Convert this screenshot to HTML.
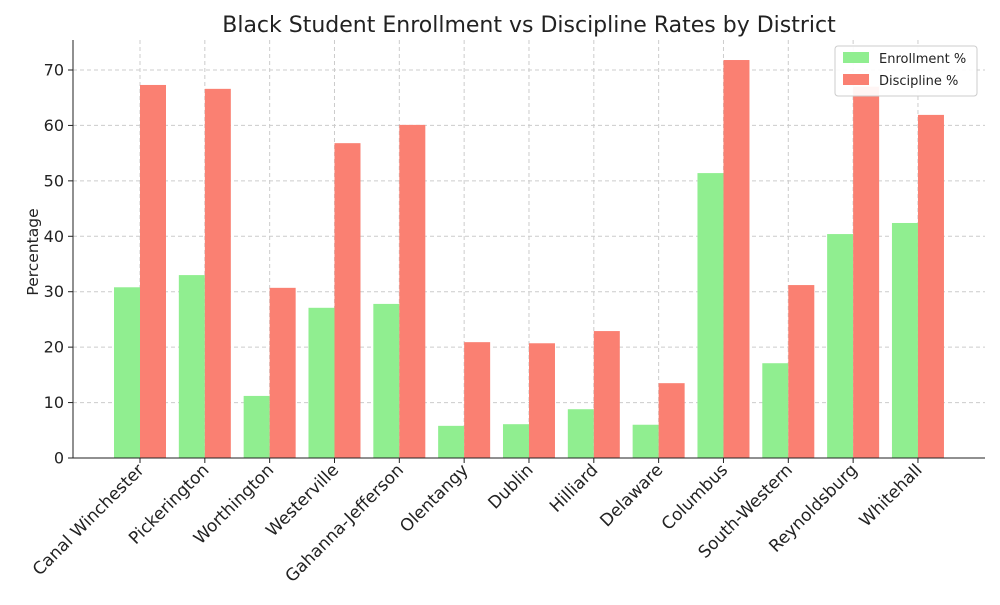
<!DOCTYPE html>
<html><head><meta charset="utf-8"><style>
body{margin:0;background:#fff;font-family:"Liberation Sans","DejaVu Sans",sans-serif;}
svg text{font-family:"DejaVu Sans","Liberation Sans",sans-serif;}
</style></head><body>
<svg id="chart" width="1000" height="600">
<text x="529" y="32" font-size="22" text-anchor="middle" fill="#222">Black Student Enrollment vs Discipline Rates by District</text>
<g id="grid"></g><g id="bars"></g><g id="axes"></g>
<text transform="translate(38,252) rotate(-90)" font-size="15.5" text-anchor="middle" fill="#222">Percentage</text>
<g>
<rect x="835" y="46" width="142" height="50" fill="#fff" fill-opacity="0.92" stroke="#ccc" rx="3"/>
<rect x="843" y="52" width="26" height="11" fill="#90ee90"/>
<text x="879" y="63" font-size="13" fill="#222">Enrollment %</text>
<rect x="843" y="74" width="26" height="11" fill="#fa8072"/>
<text x="879" y="85" font-size="13" fill="#222">Discipline %</text>
</g>
</svg>
<script>
const categories=["Canal Winchester","Pickerington","Worthington","Westerville","Gahanna-Jefferson","Olentangy","Dublin","Hilliard","Delaware","Columbus","South-Western","Reynoldsburg","Whitehall"];
const enrollment=[30.8,33.0,11.2,27.1,27.8,5.8,6.1,8.8,6.0,51.4,17.1,40.4,42.4];
const discipline=[67.3,66.6,30.7,56.8,60.1,20.9,20.7,22.9,13.5,71.8,31.2,67.0,61.9];
const yTicks=[0,10,20,30,40,50,60,70];
const NS="http://www.w3.org/2000/svg";
const L=73,R=985,T=40,B=458;
const y=v=>B-v*(B-70)/70;
const step=64.83, x0=140;
const xc=i=>x0+i*step;
const bw=26;
function mk(t,a,p){const e=document.createElementNS(NS,t);for(const k in a)e.setAttribute(k,a[k]);p.appendChild(e);return e;}
const grid=document.getElementById('grid'),bars=document.getElementById('bars'),axes=document.getElementById('axes');
yTicks.forEach(v=>{
 const l=mk('line',{x1:L,x2:R,y1:y(v),y2:y(v),stroke:'#ccc','stroke-dasharray':'4,3'},grid);
 
 
 mk('line',{x1:L-5,x2:L,y1:y(v),y2:y(v),stroke:'#222'},axes);
 const t=mk('text',{x:L-9,y:y(v)+5.5,'font-size':16,'text-anchor':'end',fill:'#222'},axes);
 t.textContent=v;
 
 
});
categories.forEach((c,i)=>{
 const g=mk('line',{x1:xc(i),x2:xc(i),y1:T,y2:B,stroke:'#ccc','stroke-dasharray':'4,3'},grid);
 
 
 const e=mk('rect',{x:xc(i)-bw,y:y(enrollment[i]),width:bw,height:B-y(enrollment[i]),fill:'#90ee90'},bars);
 
 
 const d=mk('rect',{x:xc(i),y:y(discipline[i]),width:bw,height:B-y(discipline[i]),fill:'#fa8072'},bars);
 
 
 mk('line',{x1:xc(i),x2:xc(i),y1:B,y2:B+5,stroke:'#222'},axes);
 const ax=xc(i)+5, ay=B+13;
 const t=mk('text',{x:ax,y:ay,'font-size':17,'text-anchor':'end',fill:'#222',transform:`rotate(-45 ${ax} ${ay})`},axes);
 t.textContent=c;
 
 
});
mk('line',{x1:L,x2:L,y1:T,y2:B,stroke:'#222'},axes);
mk('line',{x1:L,x2:R,y1:B,y2:B,stroke:'#222'},axes);
</script>
</body></html>
